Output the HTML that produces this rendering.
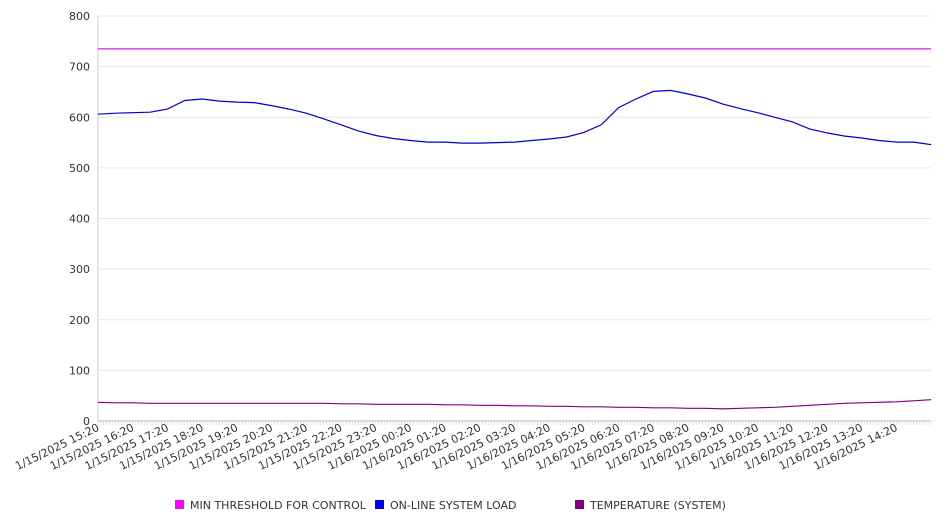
<!DOCTYPE html>
<html><head><meta charset="utf-8"><style>
body{margin:0;background:#fff;font-family:"DejaVu Sans",sans-serif;}
svg{display:block}
</style></head><body>
<svg id="chart" width="946" height="526" xmlns="http://www.w3.org/2000/svg" font-family="DejaVu Sans, sans-serif"></svg>
<script>
const yTicks=[0,100,200,300,400,500,600,700,800];
const xLabels=["1/15/2025 15:20","1/15/2025 16:20","1/15/2025 17:20","1/15/2025 18:20","1/15/2025 19:20","1/15/2025 20:20","1/15/2025 21:20","1/15/2025 22:20","1/15/2025 23:20","1/16/2025 00:20","1/16/2025 01:20","1/16/2025 02:20","1/16/2025 03:20","1/16/2025 04:20","1/16/2025 05:20","1/16/2025 06:20","1/16/2025 07:20","1/16/2025 08:20","1/16/2025 09:20","1/16/2025 10:20","1/16/2025 11:20","1/16/2025 12:20","1/16/2025 13:20","1/16/2025 14:20"];
const loadValues=[606,608,609,610,616,633,636,632,630,629,623,616,608,597,585,573,564,558,554,551,551,549,549,550,551,554,557,561,570,585,619,636,651,653,646,638,626,617,609,600,591,577,569,563,559,554,551,551,546];
const tempValues=[37,36,36,35,35,35,35,35,35,35,35,35,35,35,34,34,33,33,33,33,32,32,31,31,30,30,29,29,28,28,27,27,26,26,25,25,24,25,26,27,29,31,33,35,36,37,38,40,42];
const thresholdValues=[735,735];
const totalMinutes=1440;
const X0=98,X1=931,Y0=421,Y1=16;
const xs=m=>X0+(X1-X0)*m/totalMinutes;
const ys=v=>Y0-(Y0-Y1)*v/800;
const svg=document.getElementById('chart');
const NS="http://www.w3.org/2000/svg";
function mk(tag,attrs,parent){const e=document.createElementNS(NS,tag);for(const k in attrs)e.setAttribute(k,attrs[k]);(parent||svg).appendChild(e);return e;}
yTicks.forEach(v=>{
  const g=mk('line',{x1:X0,x2:X1,y1:ys(v),y2:ys(v),stroke:v===0?'#bbb':'#e8e8e8','stroke-width':1});
  
  
  const t=mk('text',{x:X0-8,y:ys(v)+4,'text-anchor':'end','font-size':11,fill:'#333'});
  t.textContent=v;
  
  
});
const ax=mk('line',{x1:X0,x2:X0,y1:Y1,y2:Y0,stroke:'#ccc'});


for(let m=0;m<=totalMinutes;m+=5){
  const tk=mk('line',{x1:xs(m),x2:xs(m),y1:Y0,y2:Y0+4,stroke:'#ccc','stroke-width':0.6});
  
  
}
xLabels.forEach((l,i)=>{
  const x=xs(i*60)+2,y=Y0+9;
  const t=mk('text',{x:x,y:y,'text-anchor':'end','font-size':11,fill:'#333',transform:`rotate(-26 ${x} ${y})`});
  t.textContent=l;
  
  
});
function series(vals,color,name){
  const step=totalMinutes/(vals.length-1);
  const d=vals.map((v,i)=>(i?'L':'M')+xs(i*step).toFixed(1)+','+ys(v).toFixed(1)).join(' ');
  const p=mk('path',{d:d,fill:'none',stroke:color,'stroke-width':1.2});
  
  
}
series(thresholdValues,'#e020e0','threshold-line');
series(tempValues,'#800080','temperature-line');
series(loadValues,'#0000cc','system-load-line');
const legend=[["MIN THRESHOLD FOR CONTROL","#ff00ff",175],["ON-LINE SYSTEM LOAD","#0000ff",375],["TEMPERATURE (SYSTEM)","#800080",575]];
legend.forEach(([lab,c,x])=>{
  const r=mk('rect',{x:x,y:500,width:9,height:9,fill:c});
  
  
  const t=mk('text',{x:x+15,y:509,'font-size':11,fill:'#333'});
  t.textContent=lab;
  
  
});
</script>
</body></html>
